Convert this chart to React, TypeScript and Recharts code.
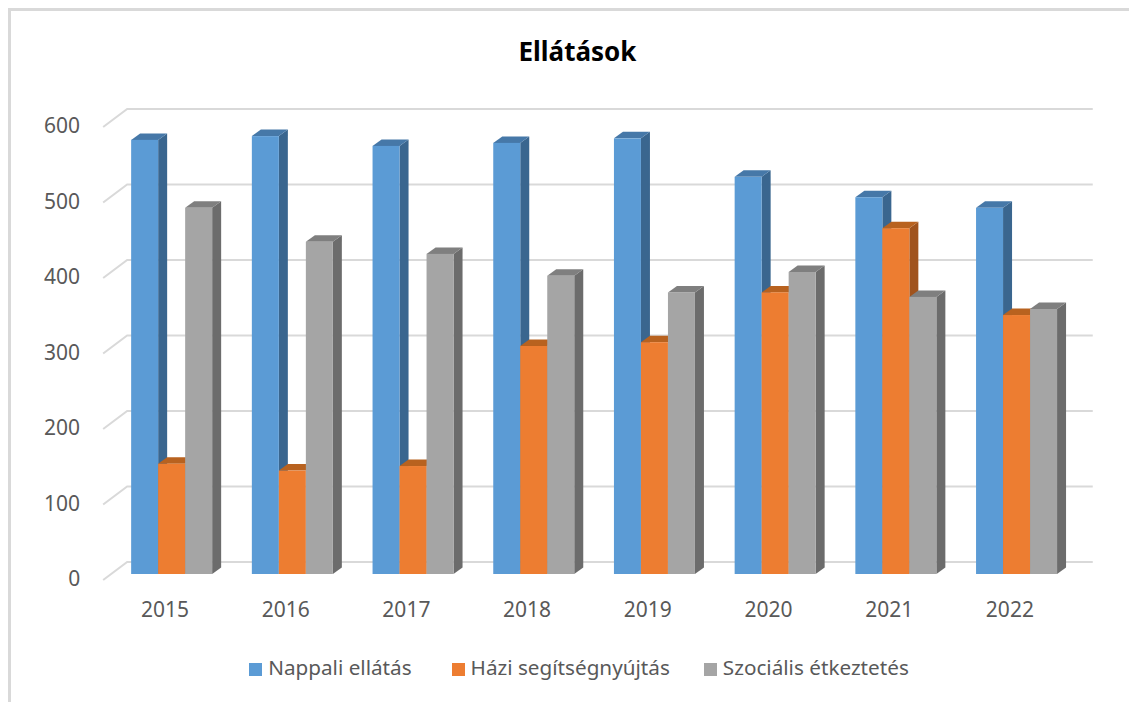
import { BarChart, Bar, XAxis, YAxis, CartesianGrid, Legend } from "recharts";

const years = ["2015", "2016", "2017", "2018", "2019", "2020", "2021", "2022"];
const nappali = [575, 580, 567, 571, 577, 526, 499, 485];
const hazi = [146, 137, 143, 302, 307, 373, 458, 343];
const szocialis = [485, 440, 424, 395, 373, 400, 367, 351];
const yTicks = [0, 100, 200, 300, 400, 500, 600];

const data = years.map((year, i) => ({
  year,
  nappali: nappali[i],
  hazi: hazi[i],
  szocialis: szocialis[i],
}));

const FONT = "'Noto Sans', sans-serif";
const DEPTH_X = 9;
const DEPTH_Y = 6.5;

// darker faces of the fake 3d columns
const faces: Record<string, { top: string; side: string }> = {
  "#5B9BD5": { top: "#4678A8", side: "#3A668F" },
  "#ED7D31": { top: "#B8621F", side: "#A0531D" },
  "#A5A5A5": { top: "#7F7F7F", side: "#6C6C6C" },
};

const legendGaps: Record<string, number> = {
  "Nappali ellátás": 30,
  "Házi segítségnyújtás": 24,
  "Szociális étkeztetés": 24,
};

function Column3D({ x, y, width, height, fill }: any) {
  const f = faces[fill];
  const r = x + width;
  const b = y + height;
  return (
    <g>
      <polygon
        points={`${r},${y} ${r + DEPTH_X},${y - DEPTH_Y} ${r + DEPTH_X},${b - DEPTH_Y} ${r},${b}`}
        fill={f.side}
      />
      <polygon
        points={`${x},${y} ${x + DEPTH_X},${y - DEPTH_Y} ${r + DEPTH_X},${y - DEPTH_Y} ${r},${y}`}
        fill={f.top}
      />
      <rect x={x} y={y} width={width} height={height} fill={fill} />
    </g>
  );
}

// gridline on the back wall with the short diagonal on the side wall
function WallLine({ x1, x2, y1, key }: any) {
  return (
    <polyline
      key={key}
      points={`${x1 - 8},${y1 + 6} ${x1 + 16},${y1 - 12} ${x2 + 16},${y1 - 12}`}
      fill="none"
      stroke="#D9D9D9"
      strokeWidth={2}
    />
  );
}

export default function App() {
  return (
    <div
      style={{
        width: 1129,
        height: 694,
        boxSizing: "border-box",
        borderTop: "3px solid #D9D9D9",
        borderLeft: "3px solid #D9D9D9",
        background: "#fff",
        overflow: "hidden",
      }}
    >
      <BarChart
        width={1126}
        height={691}
        data={data}
        barSize={27}
        barGap={0}
        margin={{ top: 110, right: 60.25, left: 0, bottom: 72 }}
      >
        <text
          x={566.5}
          y={50}
          textAnchor="middle"
          style={{ fontFamily: FONT, fontSize: 26, fontWeight: 700, fill: "#000" }}
        >
          Ellátások
        </text>
        <CartesianGrid vertical={false} horizontal={(p: any) => <WallLine {...p} />} />
        <XAxis
          dataKey="year"
          axisLine={false}
          tickLine={false}
          dx={-6.5}
          tickMargin={22}
          tick={{ fill: "#595959", fontSize: 21, fontFamily: FONT }}
        />
        <YAxis
          domain={[0, 600]}
          ticks={yTicks}
          width={100.15}
          axisLine={false}
          tickLine={false}
          tickMargin={25}
          dy={5}
          tick={{ fill: "#595959", fontSize: 21, fontFamily: FONT }}
        />
        <Legend
          iconType="square"
          iconSize={13}
          itemSorter={null}
          wrapperStyle={{ left: 235, top: 642, width: 700, height: 26, fontFamily: FONT, fontSize: 20.7 }}
          formatter={(value: string) => (
            <span style={{ color: "#595959", marginLeft: 2, marginRight: legendGaps[value] }}>{value}</span>
          )}
        />
        <Bar dataKey="nappali" name="Nappali ellátás" fill="#5B9BD5" isAnimationActive={false} shape={<Column3D />} />
        <Bar dataKey="hazi" name="Házi segítségnyújtás" fill="#ED7D31" isAnimationActive={false} shape={<Column3D />} />
        <Bar dataKey="szocialis" name="Szociális étkeztetés" fill="#A5A5A5" isAnimationActive={false} shape={<Column3D />} />
      </BarChart>
    </div>
  );
}
